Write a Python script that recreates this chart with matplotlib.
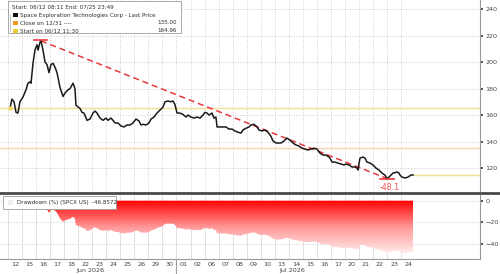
import numpy as np
import matplotlib
matplotlib.use("Agg")
import matplotlib.pyplot as plt
from matplotlib.colors import LinearSegmentedColormap
from matplotlib.patches import Rectangle, Polygon
from matplotlib.lines import Line2D

W, H = 500, 274

# ---- data ----
day_labels = ["12", "15", "16", "17", "18", "22", "23", "24", "25", "26", "29", "30",
              "01", "02", "06", "07", "08", "09", "10", "13", "14", "15", "16", "17",
              "20", "21", "22", "23", "24"]
month_labels = ["Jun 2026", "Jul 2026"]
month_first_day = [0, 12]

# position in trading days (0 = Jun 12) and last price
pos = [0.14, 0.28, 0.43, 0.57, 0.71, 0.85, 1.07, 1.28, 1.42, 1.57, 1.64, 1.78, 1.92,
       2.07, 2.14, 2.28, 2.35, 2.49, 2.64, 2.78, 2.92, 3.06, 3.21, 3.35, 3.49, 3.70,
       3.92, 4.06, 4.27, 4.42, 4.63, 4.77, 4.84, 4.99, 5.13, 5.27, 5.41, 5.63, 5.84,
       6.05, 6.20, 6.34, 6.55, 6.77, 6.98, 7.12, 7.34, 7.48, 7.62, 7.83, 8.05, 8.26,
       8.48, 8.69, 8.90, 9.12, 9.33, 9.47, 9.62, 9.83, 10.04, 10.19, 10.40, 10.61,
       10.83, 11.04, 11.18, 11.40, 11.61, 11.75, 11.89, 12.04, 12.25, 12.46, 12.68,
       12.82, 13.03, 13.25, 13.46, 13.68, 13.89, 14.03, 14.17, 14.32, 14.53, 14.67,
       14.81, 14.89, 15.10, 15.31, 15.53, 15.74, 15.95, 16.17, 16.38, 16.60, 16.74,
       16.95, 17.17, 17.31, 17.52, 17.74, 17.88, 18.09, 18.30, 18.52, 18.73, 18.87,
       19.09, 19.30, 19.44, 19.66, 19.87, 20.09, 20.30, 20.51, 20.73, 20.94, 21.15,
       21.37, 21.58, 21.79, 22.01, 22.22, 22.44, 22.65, 22.86, 22.93, 23.08, 23.29,
       23.50, 23.72, 23.93, 24.07, 24.29, 24.50, 24.72, 24.86, 24.93, 25.07, 25.28,
       25.43, 25.57, 25.78, 26.00, 26.21, 26.42, 26.64, 26.85, 26.99, 27.14, 27.28,
       27.42, 27.56, 27.71, 27.85, 27.92, 28.06, 28.28, 28.49, 28.70, 28.85]
price = [164.96, 172.0, 170.0, 162.0, 161.5, 170.0, 173.6, 179.0, 184.0, 185.0, 184.0,
         199.0, 209.0, 213.0, 209.0, 215.0, 216.0, 209.0, 200.0, 198.0, 192.0, 198.0,
         199.0, 196.0, 192.0, 181.0, 174.0, 176.6, 179.0, 180.0, 184.0, 180.0, 167.5,
         166.0, 165.0, 162.0, 161.5, 156.0, 157.0, 161.5, 163.0, 161.5, 157.7, 156.0,
         157.7, 156.0, 157.7, 156.0, 154.0, 154.0, 151.7, 151.0, 152.5, 152.5, 154.0,
         157.0, 155.5, 152.5, 153.0, 152.5, 154.0, 157.0, 158.5, 161.5, 163.8, 166.0,
         170.0, 170.6, 170.0, 170.6, 168.0, 161.5, 161.5, 160.5, 158.5, 160.0, 158.5,
         157.7, 158.5, 157.7, 160.0, 162.0, 161.5, 160.0, 161.5, 157.7, 158.5, 151.0,
         151.0, 151.0, 151.0, 149.4, 149.4, 148.0, 147.0, 146.4, 148.7, 150.0, 151.0,
         152.5, 153.0, 151.0, 148.7, 148.0, 148.7, 147.0, 144.0, 140.5, 138.9, 138.9,
         138.9, 140.4, 142.6, 141.0, 138.9, 137.4, 136.6, 135.0, 134.3, 133.6, 134.3,
         135.0, 134.3, 131.3, 129.8, 129.8, 128.3, 127.5, 124.5, 124.5, 123.8, 123.0,
         122.3, 123.0, 122.3, 120.8, 120.8, 120.0, 118.5, 127.5, 128.3, 127.5, 124.5,
         123.8, 122.3, 120.0, 118.5, 116.2, 114.7, 112.1, 113.2, 114.7, 116.2, 116.5,
         117.0, 116.2, 114.7, 113.2, 112.5, 113.2, 114.7, 114.8]

close_1231 = 135.00
start_price = 164.96
dd_last = -46.8572
dd_min_label = "-48.1"
price_ticks = [120, 140, 160, 180, 200, 220, 240]
dd_ticks = [0, -20, -40]

# ---- figure ----
fig = plt.figure(figsize=(W / 100, H / 100), dpi=100)
fig.patch.set_facecolor("white")


def fx(px):
    return px / W


def fy(py):
    return 1 - py / H


X0, X1 = -0.57, 33.62
ax = fig.add_axes([0, fy(191.5), fx(480), 191.5 / H])
ax2 = fig.add_axes([0, fy(259), fx(480), (259 - 195) / H])

pos_a = np.array(pos)
price_a = np.array(price)
n_days = len(day_labels)

TICK_COL = "#444444"
for a in (ax, ax2):
    a.set_xlim(X0, X1)
    a.set_facecolor("white")
    for s in ("left", "top"):
        a.spines[s].set_visible(False)
    a.spines["right"].set_color("#9a9a9a")
    a.spines["right"].set_linewidth(0.8)
    a.yaxis.tick_right()
    a.tick_params(axis="y", length=2.2, width=1.2, color="#333333", pad=1.5,
                  labelsize=4.6, labelcolor=TICK_COL)

# main panel
ax.set_ylim(102.3, 246.8)
ax.spines["bottom"].set_visible(False)
ax.set_xticks([])
ax.set_yticks(price_ticks)
for k in range(n_days):
    ax.axvline(k, color="#c4c4c4", lw=0.6, ls=(0, (1, 1.8)), zorder=1)
for t in price_ticks:
    ax.axhline(t, color="#b8b8b8", lw=0.6, ls=(0, (1, 2.2)), zorder=1)

ax.axhline(start_price, color="#f3df92", lw=1.0, zorder=2)
ax.axhline(close_1231, color="#f7d2ad", lw=1.0, zorder=2)
ax.plot([pos_a[-1], X1], [price_a[-1], price_a[-1]], color="#f1e08e", lw=1.0, zorder=2)

ax.plot(pos_a, price_a, color="#1a1a1a", lw=1.1, zorder=4, solid_joinstyle="round")
ax.plot(pos_a[0], price_a[0], "o", ms=3.2, color="#f0d860", zorder=5, mec="none")

i_max = int(np.argmax(price_a))
i_min = int(np.argmin(price_a))
ax.plot([pos_a[i_max], pos_a[i_min]], [price_a[i_max], price_a[i_min]],
        color="#e8383d", lw=1.1, ls=(0, (4, 2.5)), zorder=3)
ax.plot([pos_a[i_max] - 0.5, pos_a[i_max] + 0.4], [price_a[i_max] + 0.6] * 2,
        color="#e8383d", lw=1.2, zorder=5)
ax.plot([pos_a[i_min] - 0.5, pos_a[i_min] + 0.5], [price_a[i_min]] * 2,
        color="#e8383d", lw=1.2, zorder=5)
dd_min = (price_a[i_min] / price_a[:i_min + 1].max() - 1) * 100
ax.text(pos_a[i_min] + 0.2, price_a[i_min] - 3.5, f"{dd_min:.1f}", color="#f05050",
        fontsize=5.6, ha="center", va="top", zorder=6)

# drawdown panel
dd = (price_a / np.maximum.accumulate(price_a) - 1) * 100
ax2.set_ylim(-53.5, 5.2)
ax2.spines["bottom"].set_color("#9a9a9a")
ax2.spines["bottom"].set_linewidth(0.8)
ax2.set_yticks(dd_ticks)
for k in range(n_days):
    ax2.axvline(k, color="#dcdcdc", lw=0.6, zorder=1)
for t in dd_ticks:
    ax2.axhline(t, color="#b8b8b8", lw=0.6, ls=(0, (1, 2.2)), zorder=1)

fill_x = np.concatenate([[0.0], pos_a, [pos_a[-1]]])
fill_y = np.concatenate([[0.0], dd, [0.0]])
poly = Polygon(np.column_stack([np.concatenate([fill_x, [0.0]]),
                                np.concatenate([fill_y, [0.0]])]),
               closed=True, facecolor="none", edgecolor="none")
ax2.add_patch(poly)
cmap = LinearSegmentedColormap.from_list("dd", ["#fff0f0", "#ff9a9a", "#ff0000"])
grad = np.linspace(0, 1, 256).reshape(-1, 1)
im = ax2.imshow(grad, extent=[0, pos_a[-1], -50, 0], origin="lower", aspect="auto",
                cmap=cmap, zorder=2, interpolation="bilinear")
im.set_clip_path(poly)
ax2.set_xlim(X0, X1)
ax2.set_ylim(-53.5, 5.2)

ax2.set_xticks(np.arange(n_days) + 0.5)
ax2.set_xticklabels(day_labels)
ax2.tick_params(axis="x", length=0, pad=2.2, labelsize=4.6, labelcolor=TICK_COL)

# month labels and separator
for lab, i0 in zip(month_labels, month_first_day):
    pass
fig.text(fx(90), fy(270.5), month_labels[0], fontsize=4.6, color=TICK_COL,
         ha="center", va="center")
fig.text(fx(292), fy(270.5), month_labels[1], fontsize=4.6, color=TICK_COL,
         ha="center", va="center")
mx = fx(8 + 14.04 * month_first_day[1])
fig.add_artist(Line2D([mx, mx], [fy(259), 0], color="#a0a0a0", lw=0.8))

# dark separator
fig.add_artist(Line2D([0, 1], [fy(193), fy(193)], color="#4a4a4a", lw=2.0))


# legend boxes
def box(x0, y0, x1, y1):
    fig.add_artist(Rectangle((fx(x0), fy(y1)), fx(x1) - fx(x0), fy(y0) - fy(y1),
                             facecolor="white", edgecolor="#9c9c9c", lw=0.6, zorder=10))


def sq(x, y, c, s=4.5):
    fig.add_artist(Rectangle((fx(x), fy(y + s / 2)), s / W, s / H, facecolor=c,
                             edgecolor="none", zorder=11))


LEG_FS = 4.1
TXT = "#303030"
box(8, 1, 181, 33)
fig.text(fx(12), fy(7), "Start: 06/12 08:11 End: 07/25 23:49", fontsize=LEG_FS,
         color=TXT, va="center", zorder=12)
fig.add_artist(Line2D([fx(10), fx(10)], [fy(14), fy(31)], color="#b0b0b0", lw=0.5, zorder=11))
sq(13, 15, "#111111")
fig.text(fx(20), fy(15), "Space Exploration Technologies Corp - Last Price",
         fontsize=LEG_FS, color=TXT, va="center", zorder=12)
sq(13, 23, "#f29a1f")
fig.text(fx(20), fy(23), "Close on 12/31 ----", fontsize=LEG_FS, color=TXT,
         va="center", zorder=12)
fig.text(fx(177), fy(23), f"{close_1231:.2f}", fontsize=LEG_FS, color=TXT,
         va="center", ha="right", zorder=12)
sq(13, 31, "#e6cc2e")
fig.text(fx(20), fy(31), "Start on 06/12 11:30", fontsize=LEG_FS, color=TXT,
         va="center", zorder=12)
fig.text(fx(177), fy(31), f"{start_price:.2f}", fontsize=LEG_FS, color=TXT,
         va="center", ha="right", zorder=12)

box(3, 196, 116, 209)
sq(8, 202.5, "#eeeeee")
fig.text(fx(17), fy(202.5), f"Drawdown (%) (SPCX US)  {dd_last:.4f}", fontsize=LEG_FS,
         color=TXT, va="center", zorder=12)

fig.savefig("out.png", dpi=100)
